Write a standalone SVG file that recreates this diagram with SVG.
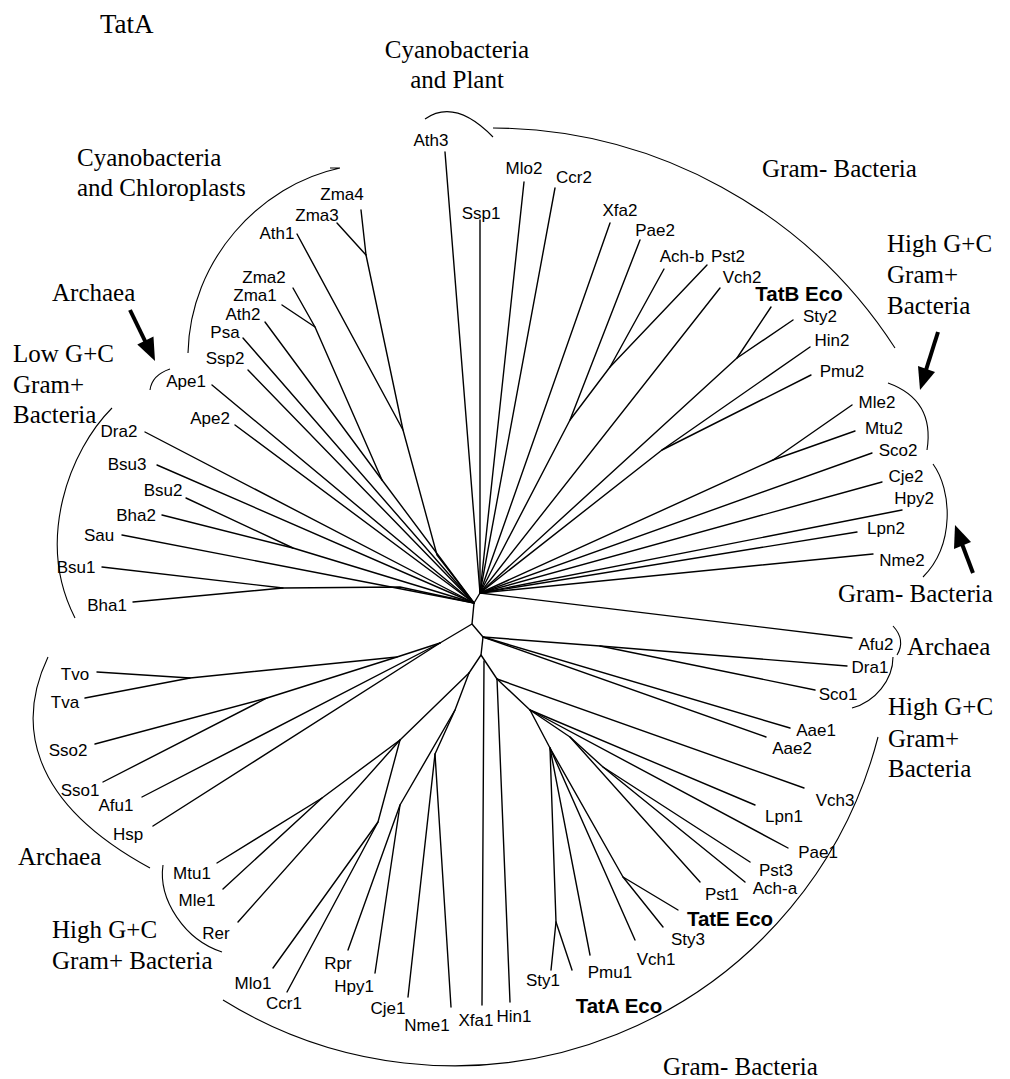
<svg xmlns="http://www.w3.org/2000/svg" width="1010" height="1079" viewBox="0 0 1010 1079">
<style>
.lf{font-family:"Liberation Sans",Arial,sans-serif;font-size:17px;text-anchor:middle;fill:#000}
.bd{font-family:"Liberation Sans",Arial,sans-serif;font-size:20.5px;font-weight:bold;text-anchor:middle;fill:#000}
.gp{font-family:"Liberation Serif","Times New Roman",serif;font-size:25px;fill:#000}
.br{fill:none;stroke:#000;stroke-width:1.1}
.ar{stroke:#000;stroke-width:4;fill:none}
</style>
<rect width="1010" height="1079" fill="#fff"/>
<g id="connectors" fill="none" stroke="#000" stroke-width="1.4" stroke-linecap="round" stroke-linejoin="round">
<path d="M480,593 L474,603 L472,624 L483,637 L481,655 L497,679"/>
<path d="M472,624 L440,643"/>
<path d="M481,655 L469,673"/>
<path d="M361,210 L366,255 L403,430 L437,555 L474,603"/>
<path d="M337,223 L366,255"/>
<path d="M297,234 L403,430"/>
<path d="M293,288 L315,327 L382,480 L474,603"/>
<path d="M282,305 L315,327"/>
<path d="M265,322 L382,480"/>
<path d="M243,338 L474,603"/>
<path d="M248,370 L474,603"/>
<path d="M212,385 L474,603"/>
<path d="M235,425 L474,603"/>
<path d="M145,432 L474,603"/>
<path d="M157,465 L474,603"/>
<path d="M186,498 L293,548 L474,603"/>
<path d="M162,515 L293,548"/>
<path d="M122,535 L474,603"/>
<path d="M102,567 L283,588 L400,587 L474,603"/>
<path d="M133,602 L283,588"/>
<path d="M97,672 L190,678 L397,657 L440,643"/>
<path d="M85,698 L190,678"/>
<path d="M95,744 L267,698 L397,657"/>
<path d="M103,782 L267,698"/>
<path d="M142,797 L440,643"/>
<path d="M153,826 L440,643"/>
<path d="M469,673 L400,740 L322,798 L217,863"/>
<path d="M223,889 L322,798"/>
<path d="M400,740 L238,922"/>
<path d="M400,740 L378,822 L273,968"/>
<path d="M287,992 L378,822"/>
<path d="M469,673 L455,710 L400,805 L348,950"/>
<path d="M375,973 L400,805"/>
<path d="M455,710 L435,754 L408,997"/>
<path d="M451,1007 L435,754"/>
<path d="M482,1005 L484,661"/>
<path d="M497,679 L510,1002"/>
<path d="M497,679 L804,788"/>
<path d="M497,679 L530,710 L755,805"/>
<path d="M530,710 L788,848"/>
<path d="M530,710 L570,737 L700,882"/>
<path d="M570,737 L603,767 L750,862"/>
<path d="M603,767 L745,882"/>
<path d="M530,710 L550,748 L556,922 L551,970"/>
<path d="M556,922 L572,970"/>
<path d="M550,748 L590,955"/>
<path d="M550,748 L635,940"/>
<path d="M550,748 L623,877 L663,927"/>
<path d="M623,877 L678,910"/>
<path d="M483,637 L600,646 L847,666"/>
<path d="M600,646 L815,690"/>
<path d="M483,637 L790,728"/>
<path d="M483,637 L766,737"/>
<path d="M480,593 L852,638"/>
<path d="M480,593 L873,554"/>
<path d="M480,593 L857,532"/>
<path d="M480,593 L902,510"/>
<path d="M480,593 L882,482"/>
<path d="M480,593 L872,453"/>
<path d="M480,593 L773,460 L852,405"/>
<path d="M773,460 L855,431"/>
<path d="M480,593 L662,450 L811,375"/>
<path d="M662,450 L810,347"/>
<path d="M480,593 L737,358 L793,320"/>
<path d="M737,358 L771,307"/>
<path d="M480,593 L720,288"/>
<path d="M480,593 L570,420 L640,240"/>
<path d="M570,420 L610,367 L664,269"/>
<path d="M610,367 L707,265"/>
<path d="M480,593 L610,223"/>
<path d="M480,593 L555,188"/>
<path d="M480,593 L524,182"/>
<path d="M480,593 L480,220"/>
<path d="M480,593 L445,152"/>
</g>
<g id="brackets">
<path class="br" d="M425,119 Q455,98 493,137"/>
<path class="br" d="M493,128 A482,482 0 0 1 895,348"/>
<path class="br" d="M330,168 L340,168 M340,168 C260,185 190,260 188,353"/>
<path class="br" d="M170,369 Q152,375 150,390"/>
<path class="br" d="M112,408 C70,450 35,540 75,618"/>
<path class="br" d="M888,383 Q935,400 927,450"/>
<path class="br" d="M933,464 C952,490 955,545 923,577"/>
<path class="br" d="M893,626 Q906,640 897,655"/>
<path class="br" d="M893,657 C893,680 875,702 852,708"/>
<path class="br" d="M878,737 A438,438 0 0 1 223,1000"/>
<path class="br" d="M163,865 C158,900 185,940 222,952"/>
<path class="br" d="M48,657 C18,720 25,800 150,868"/>
</g>
<g id="arrows">
<line class="ar" x1="130" y1="310" x2="146" y2="343"/>
<polygon points="155,361 153.5,336.5 137.3,344.5" fill="#000"/>
<line class="ar" x1="938" y1="332" x2="926" y2="370"/>
<polygon points="920,390 935,372 918,366" fill="#000"/>
<line class="ar" x1="973" y1="573" x2="962" y2="544"/>
<polygon points="955,525 971,542 954,549" fill="#000"/>
</g>
<g id="title"><text class="gp" x="100" y="33" style="font-size:27px">TatA</text></g>
<g id="grp-cyano-plant"><text class="gp" x="457" y="58" text-anchor="middle">Cyanobacteria</text><text class="gp" x="457" y="88" text-anchor="middle">and Plant</text></g>
<g id="grp-cyano-chloro"><text class="gp" x="77" y="166">Cyanobacteria</text><text class="gp" x="77" y="196">and Chloroplasts</text></g>
<g id="grp-gramneg-top"><text class="gp" x="762" y="177">Gram- Bacteria</text></g>
<g id="grp-highgc-top"><text class="gp" x="887" y="252">High G+C</text><text class="gp" x="887" y="283">Gram+</text><text class="gp" x="887" y="314">Bacteria</text></g>
<g id="grp-archaea-top"><text class="gp" x="52" y="301">Archaea</text></g>
<g id="grp-lowgc"><text class="gp" x="13" y="362">Low G+C</text><text class="gp" x="13" y="393">Gram+</text><text class="gp" x="13" y="423">Bacteria</text></g>
<g id="grp-gramneg-right"><text class="gp" x="838" y="602">Gram- Bacteria</text></g>
<g id="grp-archaea-right"><text class="gp" x="907" y="655">Archaea</text></g>
<g id="grp-highgc-right"><text class="gp" x="888" y="715">High G+C</text><text class="gp" x="888" y="747">Gram+</text><text class="gp" x="888" y="777">Bacteria</text></g>
<g id="grp-archaea-left"><text class="gp" x="18" y="865">Archaea</text></g>
<g id="grp-highgc-left"><text class="gp" x="52" y="938">High G+C</text><text class="gp" x="52" y="969">Gram+ Bacteria</text></g>
<g id="grp-gramneg-bottom"><text class="gp" x="663" y="1075">Gram- Bacteria</text></g>
<g id="leaf-Zma4"><text class="lf" x="342" y="200">Zma4</text></g>
<g id="leaf-Zma3"><text class="lf" x="317" y="221">Zma3</text></g>
<g id="leaf-Ath1"><text class="lf" x="277" y="239">Ath1</text></g>
<g id="leaf-Zma2"><text class="lf" x="264" y="283">Zma2</text></g>
<g id="leaf-Zma1"><text class="lf" x="255" y="301">Zma1</text></g>
<g id="leaf-Ath2"><text class="lf" x="243" y="320">Ath2</text></g>
<g id="leaf-Psa"><text class="lf" x="225" y="338">Psa</text></g>
<g id="leaf-Ssp2"><text class="lf" x="225" y="364">Ssp2</text></g>
<g id="leaf-Ape1"><text class="lf" x="186" y="387">Ape1</text></g>
<g id="leaf-Ape2"><text class="lf" x="210" y="424">Ape2</text></g>
<g id="leaf-Dra2"><text class="lf" x="119" y="437">Dra2</text></g>
<g id="leaf-Bsu3"><text class="lf" x="127" y="470">Bsu3</text></g>
<g id="leaf-Bsu2"><text class="lf" x="163" y="496">Bsu2</text></g>
<g id="leaf-Bha2"><text class="lf" x="136" y="521">Bha2</text></g>
<g id="leaf-Sau"><text class="lf" x="99" y="541">Sau</text></g>
<g id="leaf-Bsu1"><text class="lf" x="76" y="573">Bsu1</text></g>
<g id="leaf-Bha1"><text class="lf" x="107" y="611">Bha1</text></g>
<g id="leaf-Tvo"><text class="lf" x="75" y="680">Tvo</text></g>
<g id="leaf-Tva"><text class="lf" x="65" y="708">Tva</text></g>
<g id="leaf-Sso2"><text class="lf" x="68" y="756">Sso2</text></g>
<g id="leaf-Sso1"><text class="lf" x="80" y="796">Sso1</text></g>
<g id="leaf-Afu1"><text class="lf" x="116" y="811">Afu1</text></g>
<g id="leaf-Hsp"><text class="lf" x="128" y="840">Hsp</text></g>
<g id="leaf-Mtu1"><text class="lf" x="192" y="879">Mtu1</text></g>
<g id="leaf-Mle1"><text class="lf" x="197" y="906">Mle1</text></g>
<g id="leaf-Rer"><text class="lf" x="216" y="939">Rer</text></g>
<g id="leaf-Mlo1"><text class="lf" x="253" y="989">Mlo1</text></g>
<g id="leaf-Ccr1"><text class="lf" x="284" y="1009">Ccr1</text></g>
<g id="leaf-Rpr"><text class="lf" x="338" y="969">Rpr</text></g>
<g id="leaf-Hpy1"><text class="lf" x="354" y="992">Hpy1</text></g>
<g id="leaf-Cje1"><text class="lf" x="388" y="1014">Cje1</text></g>
<g id="leaf-Nme1"><text class="lf" x="427" y="1031">Nme1</text></g>
<g id="leaf-Xfa1"><text class="lf" x="476" y="1026">Xfa1</text></g>
<g id="leaf-Hin1"><text class="lf" x="514" y="1022">Hin1</text></g>
<g id="leaf-Sty1"><text class="lf" x="543" y="986">Sty1</text></g>
<g id="leaf-TatAEco"><text class="bd" x="619" y="1013">TatA Eco</text></g>
<g id="leaf-Pmu1"><text class="lf" x="610" y="978">Pmu1</text></g>
<g id="leaf-Vch1"><text class="lf" x="656" y="965">Vch1</text></g>
<g id="leaf-Sty3"><text class="lf" x="688" y="945">Sty3</text></g>
<g id="leaf-TatEEco"><text class="bd" x="730" y="926">TatE Eco</text></g>
<g id="leaf-Pst1"><text class="lf" x="722" y="900">Pst1</text></g>
<g id="leaf-Ach-a"><text class="lf" x="775" y="894">Ach-a</text></g>
<g id="leaf-Pst3"><text class="lf" x="776" y="876">Pst3</text></g>
<g id="leaf-Pae1"><text class="lf" x="818" y="858">Pae1</text></g>
<g id="leaf-Lpn1"><text class="lf" x="784" y="822">Lpn1</text></g>
<g id="leaf-Vch3"><text class="lf" x="835" y="806">Vch3</text></g>
<g id="leaf-Aae2"><text class="lf" x="792" y="754">Aae2</text></g>
<g id="leaf-Aae1"><text class="lf" x="816" y="736">Aae1</text></g>
<g id="leaf-Sco1"><text class="lf" x="838" y="700">Sco1</text></g>
<g id="leaf-Dra1"><text class="lf" x="870" y="673">Dra1</text></g>
<g id="leaf-Afu2"><text class="lf" x="876" y="650">Afu2</text></g>
<g id="leaf-Nme2"><text class="lf" x="902" y="566">Nme2</text></g>
<g id="leaf-Lpn2"><text class="lf" x="886" y="534">Lpn2</text></g>
<g id="leaf-Hpy2"><text class="lf" x="914" y="504">Hpy2</text></g>
<g id="leaf-Cje2"><text class="lf" x="906" y="482">Cje2</text></g>
<g id="leaf-Sco2"><text class="lf" x="898" y="456">Sco2</text></g>
<g id="leaf-Mtu2"><text class="lf" x="884" y="434">Mtu2</text></g>
<g id="leaf-Mle2"><text class="lf" x="877" y="408">Mle2</text></g>
<g id="leaf-Pmu2"><text class="lf" x="842" y="377">Pmu2</text></g>
<g id="leaf-Hin2"><text class="lf" x="832" y="346">Hin2</text></g>
<g id="leaf-Sty2"><text class="lf" x="820" y="322">Sty2</text></g>
<g id="leaf-TatBEco"><text class="bd" x="799" y="301">TatB Eco</text></g>
<g id="leaf-Vch2"><text class="lf" x="742" y="283">Vch2</text></g>
<g id="leaf-Pst2"><text class="lf" x="728" y="262">Pst2</text></g>
<g id="leaf-Ach-b"><text class="lf" x="682" y="262">Ach-b</text></g>
<g id="leaf-Pae2"><text class="lf" x="655" y="236">Pae2</text></g>
<g id="leaf-Xfa2"><text class="lf" x="620" y="216">Xfa2</text></g>
<g id="leaf-Ccr2"><text class="lf" x="574" y="183">Ccr2</text></g>
<g id="leaf-Mlo2"><text class="lf" x="524" y="174">Mlo2</text></g>
<g id="leaf-Ssp1"><text class="lf" x="481" y="219">Ssp1</text></g>
<g id="leaf-Ath3"><text class="lf" x="431" y="146">Ath3</text></g>
</svg>
